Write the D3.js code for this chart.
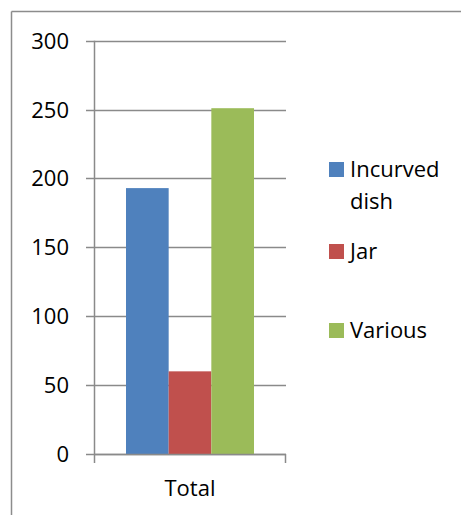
<!DOCTYPE html>
<html>
<head>
<meta charset="utf-8">
<script src="https://cdn.jsdelivr.net/npm/d3@7"></script>
<style>
  body { margin: 0; background: #fff; }
  text { font-family: "Open Sans", "Noto Sans", sans-serif; fill: #000; }
</style>
</head>
<body>
<svg id="chart" width="461" height="515"></svg>
<script>
// chart data
const categories = ["Total"];
const seriesNames = ["Incurved dish", "Jar", "Various"];
const seriesValues = [193, 60, 251];
const seriesColors = ["#4F81BD", "#C0504D", "#9BBB59"];
const yTicks = [0, 50, 100, 150, 200, 250, 300];

let svg = d3.select("#chart");
let width = 461, height = 515;

// outer frame (only top and left visible)
svg.append("line").attr("x1", 11.5).attr("x2", width).attr("y1", 11.5).attr("y2", 11.5)
    .attr("stroke", "#8c8c8c").attr("stroke-width", 1.5);
svg.append("line").attr("x1", 11.5).attr("x2", 11.5).attr("y1", 11.5).attr("y2", height)
    .attr("stroke", "#8c8c8c").attr("stroke-width", 1.5);

let plotLeft = 94, plotRight = 286, plotTop = 40.7, plotBottom = 454;

let y = d3.scaleLinear().domain([0, 300]).range([plotBottom, plotTop]);
let x0 = d3.scaleBand().domain(categories).range([plotLeft, plotRight])
            .paddingInner(1 / 3).paddingOuter(1 / 6);
let x1 = d3.scaleBand().domain(seriesNames).range([0, x0.bandwidth()]);

// gridlines + tick labels
let grid = svg.append("g");
yTicks.forEach(function(t) {
    grid.append("line")
        .attr("x1", plotLeft - 8).attr("x2", plotRight)
        .attr("y1", Math.round(y(t)) + 0.5).attr("y2", Math.round(y(t)) + 0.5)
        .attr("stroke", "#8a8a8a").attr("stroke-width", 1.5);
    grid.append("text")
        .attr("x", 69).attr("y", y(t)).attr("dy", "0.36em")
        .attr("text-anchor", "end").attr("font-size", 22)
        .text(t);
});

// bars
let groups = svg.selectAll("g.cat").data(categories).enter().append("g")
    .attr("class", "cat")
    .attr("transform", d => "translate(" + x0(d) + ",0)");

groups.selectAll("rect").data(seriesNames.map((s, i) => ({name: s, value: seriesValues[i], color: seriesColors[i]})))
    .enter().append("rect")
    .attr("x", d => x1(d.name))
    .attr("width", x1.bandwidth())
    .attr("y", d => y(d.value))
    .attr("height", d => y(0) - y(d.value))
    .attr("fill", d => d.color);

// axes lines
svg.append("line").attr("x1", plotLeft + 0.5).attr("x2", plotLeft + 0.5)
    .attr("y1", plotTop).attr("y2", plotBottom + 9)
    .attr("stroke", "#8a8a8a").attr("stroke-width", 1.5);
svg.append("line").attr("x1", plotLeft).attr("x2", plotRight)
    .attr("y1", plotBottom + 0.5).attr("y2", plotBottom + 0.5)
    .attr("stroke", "#8a8a8a").attr("stroke-width", 1.5);
svg.append("line").attr("x1", plotRight - 0.5).attr("x2", plotRight - 0.5)
    .attr("y1", plotBottom).attr("y2", plotBottom + 9)
    .attr("stroke", "#8a8a8a").attr("stroke-width", 1.5);

// category label
svg.selectAll("text.cat").data(categories).enter().append("text")
    .attr("class", "cat")
    .attr("x", d => x0(d) + x0.bandwidth() / 2)
    .attr("y", 496)
    .attr("text-anchor", "middle").attr("font-size", 22)
    .text(d => d);

// legend
let legendY = [162, 244, 323];
let legend = svg.append("g");
seriesNames.forEach(function(name, i) {
    legend.append("rect")
        .attr("x", 329).attr("y", legendY[i]).attr("width", 15).attr("height", 15)
        .attr("fill", seriesColors[i]);
    let words = name.split(" ");
    let txt = legend.append("text")
        .attr("x", 350).attr("y", legendY[i] + 15).attr("font-size", 22);
    words.forEach(function(w, j) {
        txt.append("tspan").attr("x", 350).attr("dy", j == 0 ? 0 : 32).text(w);
    });
});
</script>
</body>
</html>
